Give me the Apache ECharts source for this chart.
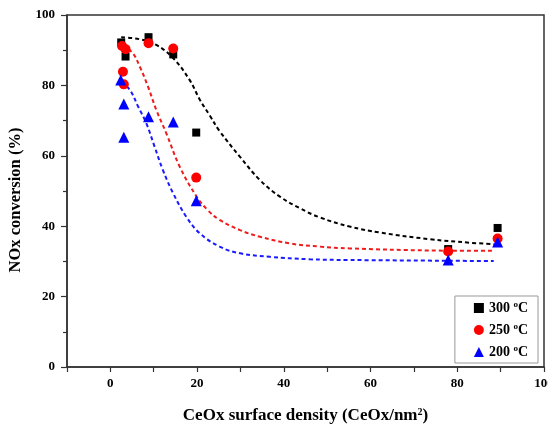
<!DOCTYPE html>
<html>
<head>
<meta charset="utf-8">
<style>
  html, body { margin: 0; padding: 0; background: #fff; }
  #chart { width: 548px; height: 427px; }
</style>
<script src="https://cdn.jsdelivr.net/npm/echarts@6/dist/echarts.min.js"></script>
</head>
<body>
<div id="chart"></div>
<script>
// 测量点
var x300 = [2.5, 3.5, 8.8, 14.5, 19.8, 77.9, 89.3];
var y300 = [92.2, 88.2, 93.7, 88.8, 66.6, 33.5, 39.5];
var x250 = [2.7, 3.5, 2.9, 3.1, 8.8, 14.5, 19.8, 77.9, 89.3];
var y250 = [91.2, 90.3, 83.9, 80.3, 92.0, 90.5, 53.8, 32.8, 36.5];
var x200 = [2.4, 3.1, 3.1, 8.8, 14.5, 19.8, 77.9, 89.3];
var y200 = [81.5, 74.7, 65.3, 71.1, 69.6, 47.2, 30.4, 35.5];

// 拟合曲线
var fitX300 = [2.5, 6.8, 10.6, 14.5, 18.3, 20.6, 22.9, 25.2, 29.9, 34.5, 39.1, 43.7, 48.3, 55.2, 62.2, 73.7, 83.0, 88.4];
var fitY300 = [93.7, 93.1, 91.5, 87.7, 81.5, 76.0, 71.5, 67.0, 59.7, 53.1, 48.4, 45.1, 42.5, 39.9, 38.2, 36.3, 35.3, 34.9];
var fitX250 = [2.9, 5.2, 6.8, 8.7, 10.6, 12.9, 16.0, 19.9, 22.5, 25.2, 29.9, 34.5, 41.4, 48.3, 55.2, 73.7, 88.4];
var fitY250 = [91.5, 89.1, 85.3, 79.6, 73.0, 66.4, 56.9, 48.4, 44.5, 41.8, 38.9, 37.0, 35.1, 34.2, 33.7, 33.1, 33.0];
var fitX200 = [2.5, 4.5, 6.4, 8.3, 10.2, 12.1, 14.5, 17.5, 20.6, 25.2, 29.9, 36.8, 46.0, 55.2, 88.4];
var fitY200 = [81.0, 78.7, 74.0, 69.2, 62.6, 56.0, 49.3, 42.7, 38.0, 34.2, 32.3, 31.3, 30.6, 30.4, 30.1];

var legendNames = ['300 °C', '250 °C', '200 °C'];

function zip(xs, ys) {
    return xs.map(function (x, i) { return [x, ys[i]]; });
}

var font = 'Liberation Serif';
var chart = echarts.init(document.getElementById('chart'));

function fitLine(xs, ys, color) {
    return {
        type: 'line',
        data: zip(xs, ys),
        smooth: 0.4,
        showSymbol: false,
        silent: true,
        z: 1,
        lineStyle: { color: color, width: 2, type: [4, 3] }
    };
}

var option = {
    backgroundColor: '#FFFFFF',
    animation: false,
    grid: {
        left: 67, right: 4, top: 15, bottom: 60,
        outerBoundsMode: 'none',
        show: true, borderColor: '#333', borderWidth: 1.5
    },
    legend: {
        data: legendNames,
        orient: 'vertical',
        right: 10,
        bottom: 64,
        itemWidth: 10,
        itemHeight: 10,
        itemGap: 7,
        itemStyle: { opacity: 1 },
        padding: [4, 10, 4, 19],
        backgroundColor: '#fff',
        borderColor: '#999',
        borderWidth: 1,
        borderRadius: 0,
        formatter: function (name) {
            return name.replace(' °C', ' {sup|o}C');
        },
        textStyle: {
            fontFamily: font, fontWeight: 'bold', fontSize: 14, color: '#000',
            rich: {
                sup: { fontFamily: font, fontWeight: 'bold', fontSize: 9, color: '#000', padding: [0, 0, 7, 0] }
            }
        }
    },
    xAxis: {
        type: 'value',
        min: -10, max: 100, interval: 10,
        name: 'CeOx surface density (CeOx/nm{sup|2})',
        nameLocation: 'middle',
        nameGap: 40,
        nameTextStyle: {
            fontFamily: font, fontWeight: 'bold', fontSize: 17, color: '#000',
            rich: {
                sup: { fontFamily: font, fontWeight: 'bold', fontSize: 10, color: '#000', padding: [0, 0, 8, 0] }
            }
        },
        axisLine: { onZero: false, lineStyle: { color: '#333', width: 1.5 } },
        axisTick: { length: 5, lineStyle: { color: '#333', width: 1.2 } },
        axisLabel: {
            fontFamily: font, fontWeight: 'bold', fontSize: 13, color: '#000', margin: 10,
            formatter: function (v) { return v % 20 === 0 ? v : ''; }
        },
        splitLine: { show: false }
    },
    yAxis: {
        type: 'value',
        min: 0, max: 100, interval: 20,
        name: 'NOx conversion (%)',
        nameLocation: 'middle',
        nameGap: 40,
        nameTextStyle: {
            fontFamily: font, fontWeight: 'bold', fontSize: 16.5, color: '#000',
            padding: [0, 18, 0, 0]
        },
        axisLine: { onZero: false, lineStyle: { color: '#333', width: 1.5 } },
        axisTick: { length: 6, lineStyle: { color: '#333', width: 1.2 } },
        minorTick: { show: true, splitNumber: 2, length: 4, lineStyle: { color: '#333', width: 1.2 } },
        axisLabel: { fontFamily: font, fontWeight: 'bold', fontSize: 13, color: '#000', margin: 12 },
        splitLine: { show: false }
    },
    series: [
        fitLine(fitX300, fitY300, '#000000'),
        fitLine(fitX250, fitY250, '#ee1c1c'),
        fitLine(fitX200, fitY200, '#1a1aff'),
        {
            name: legendNames[0], type: 'scatter', data: zip(x300, y300),
            symbol: 'rect', symbolSize: 8, z: 3,
            itemStyle: { color: '#000000', opacity: 1 }
        },
        {
            name: legendNames[1], type: 'scatter', data: zip(x250, y250),
            symbol: 'circle', symbolSize: 10, z: 4,
            itemStyle: { color: '#ff0000', opacity: 1 }
        },
        {
            name: legendNames[2], type: 'scatter', data: zip(x200, y200),
            symbol: 'triangle', symbolSize: 11, z: 5,
            itemStyle: { color: '#0000ff', opacity: 1 }
        }
    ]
};

chart.setOption(option);
window.onresize = function () {
    chart.resize();
};
</script>
</body>
</html>
